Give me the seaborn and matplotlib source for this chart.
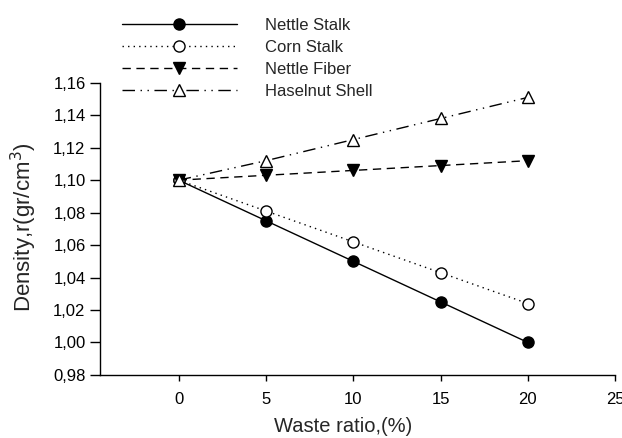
import matplotlib
matplotlib.use("Agg")
import matplotlib.pyplot as plt
import seaborn as sns
import pandas as pd
from matplotlib.ticker import FuncFormatter, MultipleLocator

waste_ratio = [0, 5, 10, 15, 20]
nettle_stalk = [1.100, 1.075, 1.050, 1.025, 1.000]
corn_stalk = [1.100, 1.081, 1.062, 1.043, 1.024]
nettle_fiber = [1.100, 1.103, 1.106, 1.109, 1.112]
haselnut_shell = [1.100, 1.112, 1.125, 1.138, 1.151]
series_names = ["Nettle Stalk", "Corn Stalk", "Nettle Fiber", "Haselnut Shell"]
x_ticks = [0, 5, 10, 15, 20, 25]

sns.set_style("ticks")
plt.rcParams['font.family'] = ['Liberation Sans', 'DejaVu Sans']

fig = plt.figure(figsize=(6.22, 4.38), dpi=100)
ax = fig.add_axes([0.161, 0.144, 0.828, 0.667])

styles = [
    dict(linestyle='-', marker='o', mfc='black'),
    dict(linestyle=(0, (1, 3)), marker='o', mfc='white'),
    dict(linestyle=(0, (6, 4)), marker='v', mfc='black'),
    dict(linestyle=(0, (9, 4, 1, 4, 1, 4)), marker='^', mfc='white'),
]
values = [nettle_stalk, corn_stalk, nettle_fiber, haselnut_shell]
for name, vals, st in zip(series_names, values, styles):
    df = pd.DataFrame({"x": waste_ratio, "y": vals})
    sns.lineplot(data=df, x="x", y="y", ax=ax, color='black', linewidth=1.0,
                 linestyle=st['linestyle'], marker=st['marker'], markersize=8,
                 markerfacecolor=st['mfc'], markeredgecolor='black',
                 markeredgewidth=1.0, label=name)

ax.set_xlim(-4.5, 25)
ax.set_ylim(0.98, 1.16)
ax.set_xticks(x_ticks)
ax.yaxis.set_major_locator(MultipleLocator(0.02))
ax.yaxis.set_major_formatter(FuncFormatter(lambda v, p: f"{v:.2f}".replace('.', ',')))
ax.spines['top'].set_visible(False)
ax.spines['right'].set_visible(False)
for s in ['left', 'bottom']:
    ax.spines[s].set_linewidth(1.0)
    ax.spines[s].set_color('black')
ax.tick_params(axis='x', direction='out', length=4.5, width=1, labelsize=12, colors='black', pad=7.5)
ax.tick_params(axis='y', direction='out', length=7, width=1, labelsize=12, colors='black', pad=3.5)
ax.set_xlabel("Waste ratio,(%)", fontsize=14.5)
ax.set_ylabel("Density,r(gr/cm$^3$)", fontsize=16)
ax.xaxis.set_label_coords((343 - 100) / 515, (375 - 417) / 292)
ax.yaxis.set_label_coords((39 - 100) / 515, (375 - 227) / 292)

ax.legend(loc='upper left', bbox_to_anchor=(0.169, 0.997), bbox_transform=fig.transFigure,
          frameon=False, fontsize=12, handlelength=6.9, handletextpad=1.7,
          labelspacing=0.42, borderpad=0.5)

fig.savefig("out.png", dpi=100)
